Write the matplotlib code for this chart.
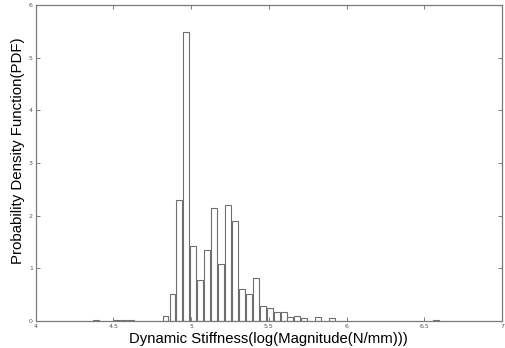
import numpy as np
from matplotlib import pyplot as plt

# histogram bins (bin centres and PDF values)
bin_centers = [4.388, 4.522, 4.567, 4.611, 4.835, 4.880, 4.924, 4.969,
               5.014, 5.058, 5.103, 5.148, 5.192, 5.237, 5.282, 5.327,
               5.371, 5.416, 5.461, 5.505, 5.550, 5.595, 5.639, 5.684,
               5.729, 5.818, 5.908, 6.578]
pdf_values = [0.025, 0.025, 0.025, 0.025, 0.095, 0.51, 2.29, 5.48,
              1.43, 0.77, 1.34, 2.14, 1.09, 2.20, 1.89, 0.61,
              0.51, 0.82, 0.28, 0.25, 0.18, 0.18, 0.08, 0.095,
              0.05, 0.08, 0.05, 0.025]
bin_width = 0.0447

x_ticks = [4, 4.5, 5, 5.5, 6, 6.5, 7]
x_tick_labels = ["4", "4.5", "5", "5.5", "6", "6.5", "7"]
y_ticks = [0, 1, 2, 3, 4, 5, 6]

GRAY = "#7a7a7a"

fig = plt.figure(figsize=(5.05, 3.48), dpi=100)
ax = fig.add_axes([0.0707, 0.0776, 0.9233, 0.908])

ax.bar(bin_centers, pdf_values, width=bin_width * 0.85,
       facecolor="white", edgecolor="#6e6e6e", linewidth=0.8)

ax.set_xlim(4, 7)
ax.set_ylim(0, 6)
ax.set_xticks(x_ticks)
ax.set_xticklabels(x_tick_labels)
ax.set_yticks(y_ticks)

for s in ax.spines.values():
    s.set_color(GRAY)
    s.set_linewidth(0.9)

ax.tick_params(direction="in", length=3, width=0.7, color=GRAY,
               labelsize=4.5, labelcolor="#555555", top=True, right=True,
               pad=2)

ax.set_xlabel("Dynamic Stiffness(log(Magnitude(N/mm)))",
              family="Liberation Sans", fontsize=10.7, labelpad=2)
ax.set_ylabel("Probability Density Function(PDF)",
              family="Liberation Sans", fontsize=10.8)
ax.yaxis.set_label_coords(-0.022, 0.54)

fig.savefig("out.png", dpi=100)
